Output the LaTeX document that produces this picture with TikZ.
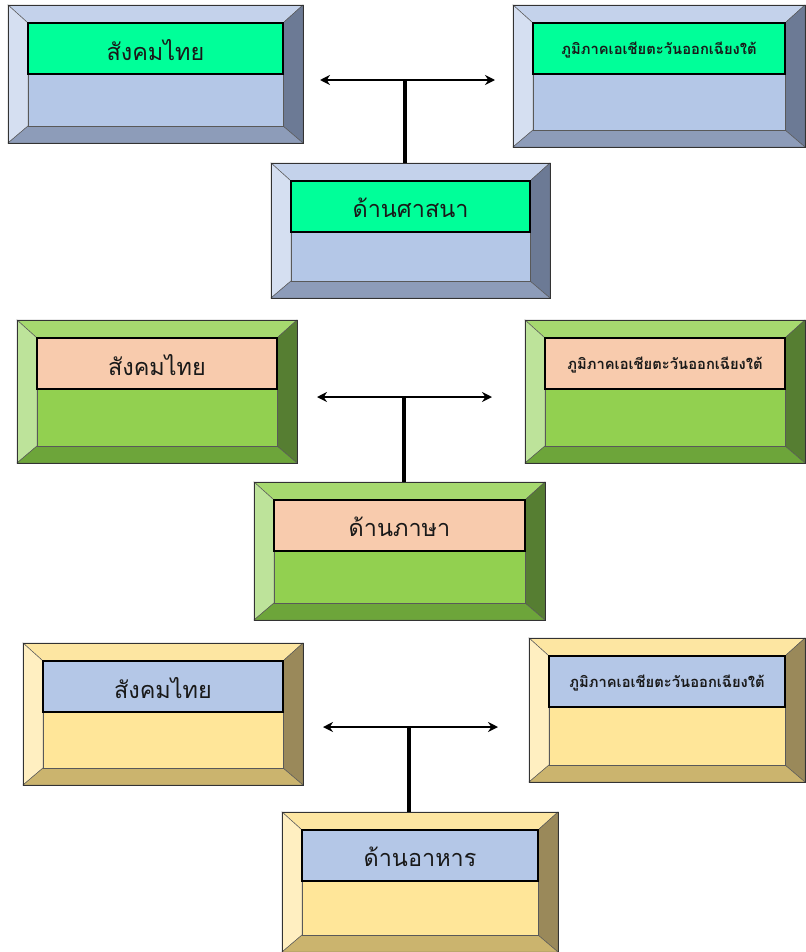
\documentclass[tikz,border=0pt]{standalone}
\usepackage{fontspec}
\newfontfamily\thaifont[Script=Thai]{Loma}
\usetikzlibrary{fit,arrows.meta}

\definecolor{bluface}{HTML}{B4C7E7}
\definecolor{blutop}{HTML}{C4D2EB}
\definecolor{bluleft}{HTML}{D5DFF1}
\definecolor{bluright}{HTML}{6C7A95}
\definecolor{blubottom}{HTML}{8D9CB9}
\definecolor{bluband}{HTML}{00FF99}

\definecolor{grnface}{HTML}{92D050}
\definecolor{grntop}{HTML}{A6D96F}
\definecolor{grnleft}{HTML}{BDE39A}
\definecolor{grnright}{HTML}{567E32}
\definecolor{grnbottom}{HTML}{6DA53A}
\definecolor{grnband}{HTML}{F8CBAD}

\definecolor{ylwface}{HTML}{FFE699}
\definecolor{ylwtop}{HTML}{FDE6A2}
\definecolor{ylwleft}{HTML}{FFEFC1}
\definecolor{ylwright}{HTML}{9A895A}
\definecolor{ylwbottom}{HTML}{CBB46E}
\definecolor{ylwband}{HTML}{B4C7E7}

\tikzset{
	bevel/.style={draw=black!65, line width=0.4pt},
	band/.style={draw=black, line width=0.9pt, inner sep=0pt},
	bandtext/.style={inner sep=0pt, anchor=center, text=black!90},
	shortlbl/.style={font=\thaifont\fontsize{20}{22}\selectfont},
	longlbl/.style={font=\thaifont\bfseries\fontsize{12.6}{14}\selectfont},
	stem/.style={line width=3.4pt},
	twoway/.style={line width=1.7pt, {Stealth[length=3mm,width=3mm]}-{Stealth[length=3mm,width=3mm]}}
}

% #1 colours, (#2,#3) top left, (#4,#5) bottom right, #6 name, #7 label style, #8 text
\def\bevelbox[#1](#2,#3)(#4,#5)#6#7#8{%
	\filldraw[bevel, fill=#1top] (#2,#3) -- (#4,#3) -- (#4-20,#3+18) -- (#2+20,#3+18) -- cycle;
	\filldraw[bevel, fill=#1left] (#2,#3) -- (#2+20,#3+18) -- (#2+20,#5-17) -- (#2,#5) -- cycle;
	\filldraw[bevel, fill=#1right] (#4,#3) -- (#4,#5) -- (#4-20,#5-17) -- (#4-20,#3+18) -- cycle;
	\filldraw[bevel, fill=#1bottom] (#2,#5) -- (#2+20,#5-17) -- (#4-20,#5-17) -- (#4,#5) -- cycle;
	\filldraw[bevel, fill=#1face] (#2+20,#3+18) rectangle (#4-20,#5-17);
	\draw[black!80, line width=0.6pt] (#2,#3) rectangle (#4,#5);
	\node[inner sep=0pt, fit={(#2,#3) (#4,#5)}] (#6-box) {};
	\node[band, fill=#1band, fit={(#2+20,#3+18) (#4-20,#3+69)}] (#6) {};
	\node[bandtext, #7] (#6-text) at ([yshift=-1pt]#6.center) {#8};
}

\begin{document}
\begin{tikzpicture}[x=0.03cm, y=-0.03cm]
	\useasboundingbox (0,0) rectangle (805,952);
	%%%%% START %%%%%
	
	\bevelbox[blu](8,5)(303,143){soc1}{shortlbl}{สังคมไทย}
	\bevelbox[blu](513,5)(805,147){sea1}{longlbl}{ภูมิภาคเอเชียตะวันออกเฉียงใต้}
	\bevelbox[blu](271,163)(550,298){rel}{shortlbl}{ด้านศาสนา}
	
	\coordinate (j1) at (405,80);
	\coordinate (l1) at (320,80);
	\coordinate (r1) at (495,80);
	\draw[twoway] (l1) -- (r1);
	\draw[stem] (j1 |- rel-box.north) -- (j1);
	
	\bevelbox[grn](17,320)(297,463){soc2}{shortlbl}{สังคมไทย}
	\bevelbox[grn](525,320)(805,463){sea2}{longlbl}{ภูมิภาคเอเชียตะวันออกเฉียงใต้}
	\bevelbox[grn](254,482)(545,620){lang}{shortlbl}{ด้านภาษา}
	
	\coordinate (j2) at (404,397);
	\coordinate (l2) at (317,397);
	\coordinate (r2) at (492,397);
	\draw[twoway] (l2) -- (r2);
	\draw[stem] (j2 |- lang-box.north) -- (j2);
	
	\bevelbox[ylw](23,643)(303,785){soc3}{shortlbl}{สังคมไทย}
	\bevelbox[ylw](529,638)(805,782){sea3}{longlbl}{ภูมิภาคเอเชียตะวันออกเฉียงใต้}
	\bevelbox[ylw](282,812)(558,952){food}{shortlbl}{ด้านอาหาร}
	
	\coordinate (j3) at (409,727);
	\coordinate (l3) at (323,727);
	\coordinate (r3) at (498,727);
	\draw[twoway] (l3) -- (r3);
	\draw[stem] (j3 |- food-box.north) -- (j3);
	
	%%%%% END %%%%%
\end{tikzpicture}
\end{document}
